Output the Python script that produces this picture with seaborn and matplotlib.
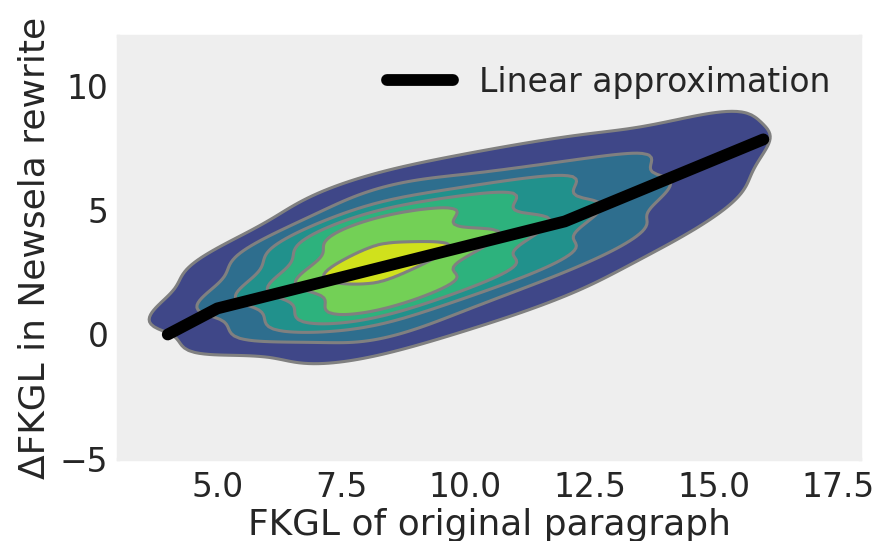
import numpy as np
import pandas as pd
import matplotlib
matplotlib.use("Agg")
import matplotlib.pyplot as plt
from matplotlib.colors import ListedColormap, BoundaryNorm
import seaborn as sns
from seaborn._statistics import KDE

# sample columns (FKGL of original) and the ridge of the density cloud
fkgl_cols = [4, 5, 6, 7, 8, 9, 10, 11, 12, 13, 14, 15, 16]
ridge_delta = [0.8, 1.35, 1.9, 2.35, 2.7, 3.2, 3.7, 4.2, 4.7, 5.3, 6.0, 6.9, 8.0]
row_offsets = [-3.0, -1.5, 0.0, 1.5, 3.0]

# relative weights, one list per row offset
w_low2 = [0.00, 0.02, 0.06, 0.15, 0.38, 0.23, 0.22, 0.18, 0.14, 0.12, 0.09, 0.08, 0.03]
w_low1 = [0.07, 0.19, 0.37, 0.60, 1.15, 0.70, 0.68, 0.56, 0.43, 0.32, 0.23, 0.22, 0.13]
w_mid = [0.20, 0.33, 0.52, 0.74, 1.35, 0.82, 0.80, 0.66, 0.50, 0.36, 0.26, 0.24, 0.22]
w_up1 = [0.07, 0.19, 0.37, 0.60, 1.15, 0.70, 0.68, 0.56, 0.43, 0.32, 0.23, 0.22, 0.13]
w_up2 = [0.00, 0.02, 0.06, 0.15, 0.38, 0.23, 0.22, 0.18, 0.14, 0.12, 0.09, 0.08, 0.03]

# piecewise linear approximation
line_x = [4.0, 5.0, 12.0, 16.0]
line_y = [0.0, 1.05, 4.55, 7.85]

rows = []
for off, ws in zip(row_offsets, [w_low2, w_low1, w_mid, w_up1, w_up2]):
    for x, r, w in zip(fkgl_cols, ridge_delta, ws):
        if w > 0:
            rows.append((x, r + off, w))
df = pd.DataFrame(rows, columns=["fkgl", "delta", "w"])

BW = 0.72
N_BANDS = 7  # evenly spaced density levels, lowest band left empty

# turn evenly spaced density levels into seaborn's iso-proportion levels
dens, _ = KDE(bw_adjust=BW)(df["fkgl"], df["delta"], weights=df["w"])
vals = dens.ravel()
levels = []
for k in range(1, N_BANDS):
    lev = vals.max() * k / N_BANDS
    levels.append(1 - vals[vals >= lev].sum() / vals.sum())
levels.append(1.0)

sns.set_theme(context="poster", style="dark", font_scale=1.08,
              rc={"axes.facecolor": "#EEEEEE", "axes.grid": False,
                  "axes.edgecolor": "#EEEEEE",
                  "xtick.major.size": 0, "ytick.major.size": 0,
                  "xtick.major.pad": 9, "ytick.major.pad": 7})

band_colors = [plt.cm.viridis(v) for v in [0.214, 0.357, 0.5, 0.643, 0.786, 0.929]]
band_cmap = ListedColormap(band_colors)

fig, ax = plt.subplots(figsize=(8.75, 5.41), dpi=100)
fig.subplots_adjust(left=0.135, right=0.983, top=0.933, bottom=0.152)

sns.kdeplot(data=df, x="fkgl", y="delta", weights="w", fill=True,
            levels=levels, cmap=band_cmap, bw_adjust=BW, ax=ax)
# one colour per band, whatever the density spacing of the levels
cs = ax.collections[-1]
cs.set_norm(BoundaryNorm(cs.levels, len(band_colors)))
cs.set_cmap(band_cmap)

sns.kdeplot(data=df, x="fkgl", y="delta", weights="w", fill=False,
            levels=levels, color="gray", linewidths=2.2, bw_adjust=BW, ax=ax)

sns.lineplot(x=line_x, y=line_y, color="black", lw=8.5,
             label="Linear approximation", ax=ax, solid_capstyle="round")

ax.set_xlim(3.0, 17.95)
ax.set_ylim(-5, 12)
ax.set_xticks([5.0, 7.5, 10.0, 12.5, 15.0, 17.5])
ax.set_yticks([-5, 0, 5, 10])
ax.set_xlabel("FKGL of original paragraph", labelpad=3)
ax.set_ylabel("ΔFKGL in Newsela rewrite", labelpad=6)
ax.legend(loc="upper right", frameon=False)

fig.savefig("out.png", dpi=100)
